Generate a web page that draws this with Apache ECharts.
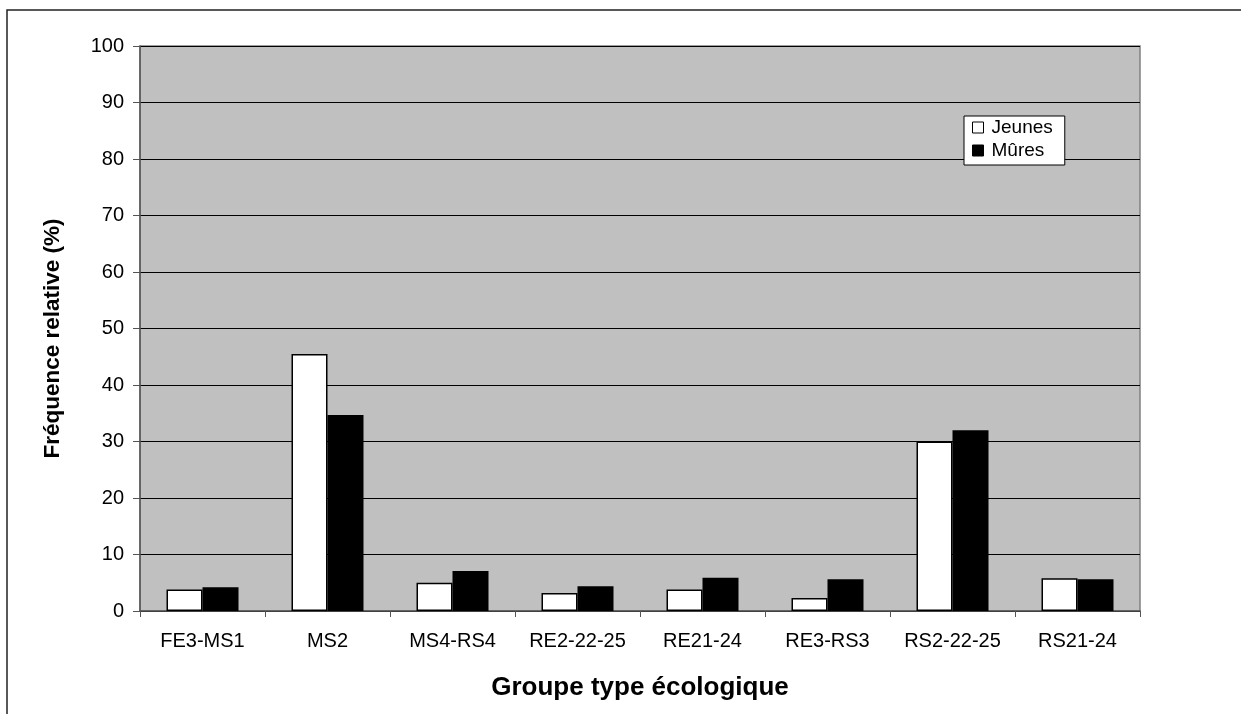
<!DOCTYPE html>
<html>
<head>
<meta charset="utf-8">
<script src="https://cdn.jsdelivr.net/npm/echarts@6/dist/echarts.min.js"></script>
<style>
  html, body { margin: 0; padding: 0; background: #fff; }
  #chart { width: 1241px; height: 714px; }
</style>
</head>
<body>
<div id="chart"></div>
<script>
// Relative frequency (%) of young and mature stands per ecological type group
const categories = ['FE3-MS1', 'MS2', 'MS4-RS4', 'RE2-22-25', 'RE21-24', 'RE3-RS3', 'RS2-22-25', 'RS21-24'];
const jeunes = [3.8, 45.5, 5.0, 3.2, 3.8, 2.3, 30.0, 5.8];
const mures  = [4.2, 34.7, 7.1, 4.4, 5.9, 5.6, 32.0, 5.6];
const seriesNames = ['Jeunes', 'Mûres'];

const FONT = '"Liberation Sans", Arial, sans-serif';

const chart = echarts.init(document.getElementById('chart'), null, { renderer: 'canvas' });

chart.setOption({
  animation: false,
  backgroundColor: '#ffffff',
  textStyle: { fontFamily: FONT, color: '#000' },
  graphic: [
    {
      type: 'rect',
      shape: { x: 7, y: 10, width: 1260, height: 740 },
      style: { fill: 'none', stroke: '#222', lineWidth: 1.5 },
      silent: true
    }
  ],
  grid: {
    left: 140, top: 46, width: 1000, height: 565,
    show: true,
    backgroundColor: '#c0c0c0',
    borderColor: '#808080',
    borderWidth: 1.5
  },
  legend: {
    data: seriesNames,
    orient: 'vertical',
    left: 964,
    top: 116,
    backgroundColor: '#ffffff',
    borderColor: '#000',
    borderWidth: 1,
    padding: [2, 12, 5, 8],
    itemGap: 4,
    itemWidth: 11,
    itemHeight: 11,
    icon: 'rect',
    textStyle: { fontFamily: FONT, fontSize: 19, color: '#000', padding: [0, 0, 0, 3] },
    itemStyle: { borderColor: '#000', borderWidth: 1 }
  },
  xAxis: {
    type: 'category',
    data: categories,
    name: 'Groupe type écologique',
    nameLocation: 'middle',
    nameGap: 64,
    nameTextStyle: { fontFamily: FONT, fontSize: 26, fontWeight: 'bold', color: '#000' },
    axisLine: { lineStyle: { color: '#555', width: 1.5 } },
    axisTick: { show: true, length: 6, alignWithLabel: false, lineStyle: { color: '#555' } },
    axisLabel: { interval: 0, fontFamily: FONT, fontSize: 20, color: '#000', margin: 20 },
    splitLine: { show: false }
  },
  yAxis: {
    type: 'value',
    min: 0, max: 100, interval: 10,
    name: 'Fréquence relative (%)',
    nameLocation: 'middle',
    nameRotate: 90,
    nameGap: 76,
    nameTextStyle: { fontFamily: FONT, fontSize: 22.5, fontWeight: 'bold', color: '#000', padding: [0, 20, 0, 0] },
    axisLine: { show: true, lineStyle: { color: '#555', width: 1.5 } },
    axisTick: { show: true, length: 7, lineStyle: { color: '#555' } },
    axisLabel: { fontFamily: FONT, fontSize: 20, color: '#000', margin: 16 },
    splitLine: { show: true, lineStyle: { color: '#000', width: 1 } }
  },
  series: [
    {
      name: seriesNames[0],
      type: 'bar',
      data: jeunes,
      barWidth: 36,
      barGap: '0%',
      itemStyle: { color: '#ffffff', borderColor: '#000', borderWidth: 1.5 }
    },
    {
      name: seriesNames[1],
      type: 'bar',
      data: mures,
      barWidth: 36,
      barGap: '0%',
      itemStyle: { color: '#000000', borderColor: '#000', borderWidth: 1.5 }
    }
  ]
});
</script>
</body>
</html>
